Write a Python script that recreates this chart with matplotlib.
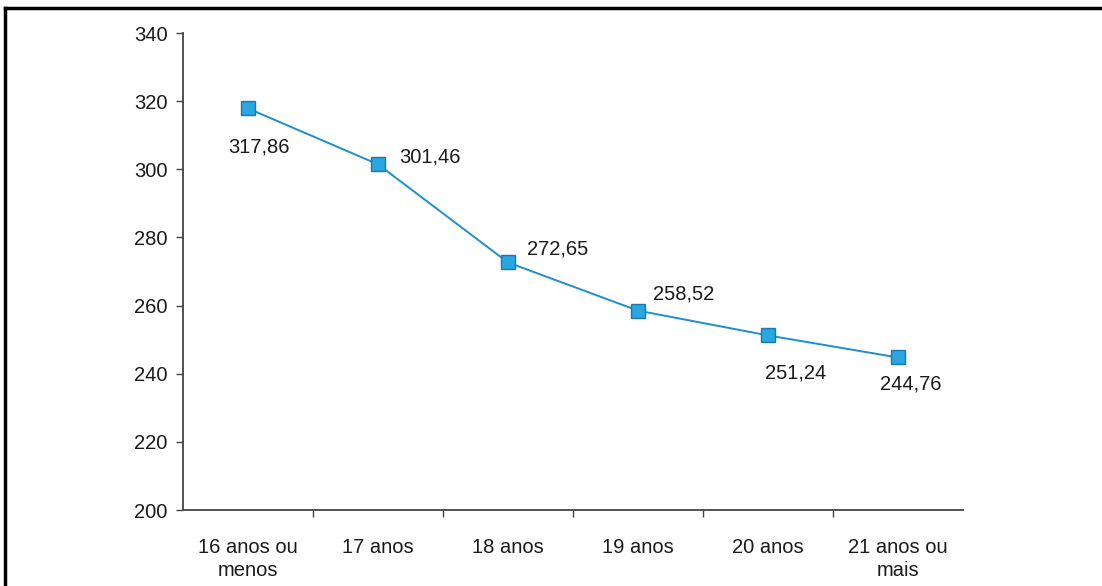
import matplotlib.pyplot as plt
from matplotlib.lines import Line2D

plt.rcParams['font.family'] = ['Liberation Sans', 'DejaVu Sans']

categorias = ['16 anos ou\nmenos', '17 anos', '18 anos', '19 anos', '20 anos', '21 anos ou\nmais']
valores = [317.86, 301.46, 272.65, 258.52, 251.24, 244.76]
rotulos = ['317,86', '301,46', '272,65', '258,52', '251,24', '244,76']
# label offsets in points (dx, dy) and horizontal alignment
offsets = [(8, -28, 'center'), (15, 5, 'left'), (14, 10, 'left'), (11, 12, 'left'),
           (20, -27, 'center'), (9, -19, 'center')]

fig = plt.figure(figsize=(11.02, 5.86), dpi=100)
ax = fig.add_axes([183 / 1102, 1 - 510 / 586, 780 / 1102, 477 / 586])

x = list(range(len(valores)))
ax.plot(x, valores, color='#1f8fcb', lw=1.4, marker='s', markersize=9.5,
        markerfacecolor='#2aa6e0', markeredgecolor='#1a78b0', markeredgewidth=1.0)

fs = 14.5
for xi, v, txt, (dx, dy, ha) in zip(x, valores, rotulos, offsets):
    ax.annotate(txt, (xi, v), xytext=(dx, dy), textcoords='offset points',
                ha=ha, va='center', fontsize=fs, color='#1a1a1a')

ax.set_xlim(-0.5, len(valores) - 0.5)
ax.set_ylim(200, 340)
ax.set_yticks(range(200, 341, 20))

# category ticks sit between categories
ax.set_xticks([i + 0.5 for i in range(len(valores) - 1)])
ax.set_xticklabels([])
ax.set_xticks(x, minor=True)
ax.set_xticklabels(categorias, minor=True, fontsize=fs, color='#1a1a1a', linespacing=1.25)
ax.tick_params(axis='x', which='minor', length=0, pad=20)
ax.tick_params(axis='x', which='major', length=5, width=1, color='#444444', direction='out')
ax.tick_params(axis='y', length=5, width=1, color='#444444', direction='out',
               labelsize=fs, labelcolor='#1a1a1a', pad=6)

for s in ['top', 'right']:
    ax.spines[s].set_visible(False)
for s in ['left', 'bottom']:
    ax.spines[s].set_color('#444444')
    ax.spines[s].set_linewidth(1.3)

# outer frame
fig.add_artist(Line2D([5 / 1102, 5 / 1102], [0, 1 - 8 / 586], color='black', lw=2.5))
fig.add_artist(Line2D([5 / 1102, 1], [1 - 8 / 586, 1 - 8 / 586], color='black', lw=2.5))

fig.savefig('out.png', dpi=100)
